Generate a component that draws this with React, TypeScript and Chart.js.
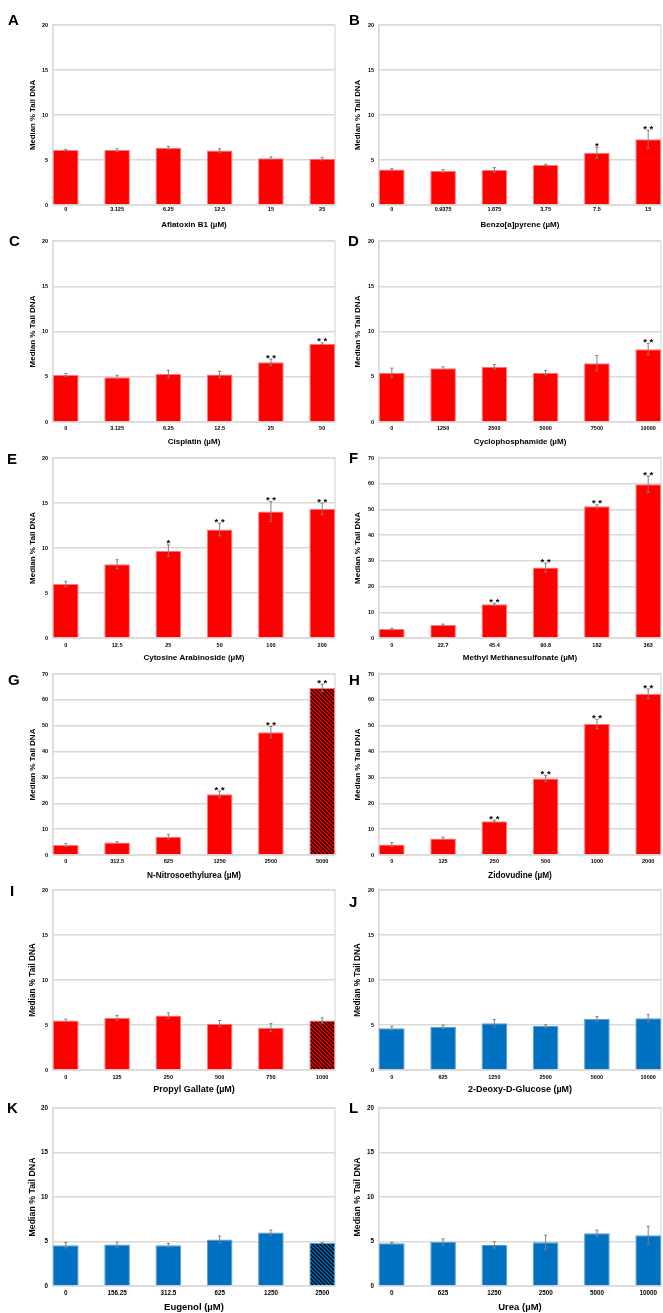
import React, { useEffect, useRef } from "react";
import { Chart, registerables } from "chart.js";
Chart.register(...registerables);

// ---------- DATA ----------
const aflatoxinDoses = ["0", "3.125", "6.25", "12.5", "15", "25"];
const aflatoxinMedians = [6.1, 6.1, 6.35, 6.05, 5.2, 5.15];
const aflatoxinErrors = [0.08, 0.15, 0.15, 0.2, 0.15, 0.15];
const aflatoxinStars = ["", "", "", "", "", ""];

const benzoDoses = ["0", "0.9375", "1.875", "3.75", "7.5", "15"];
const benzoMedians = [3.95, 3.8, 3.9, 4.45, 5.8, 7.3];
const benzoErrors = [0.08, 0.15, 0.25, 0.08, 0.6, 1.0];
const benzoStars = ["", "", "", "", "*", "**"];

const cisplatinDoses = ["0", "3.125", "6.25", "12.5", "25", "50"];
const cisplatinMedians = [5.2, 4.95, 5.3, 5.25, 6.6, 8.65];
const cisplatinErrors = [0.15, 0.2, 0.4, 0.35, 0.35, 0.1];
const cisplatinStars = ["", "", "", "", "**", "**"];

const cyclophosDoses = ["0", "1250", "2500", "5000", "7500", "10000"];
const cyclophosMedians = [5.45, 5.95, 6.1, 5.45, 6.5, 8.05];
const cyclophosErrors = [0.5, 0.15, 0.25, 0.25, 0.85, 0.65];
const cyclophosStars = ["", "", "", "", "", "**"];

const cytosineDoses = ["0", "12.5", "25", "50", "100", "200"];
const cytosineMedians = [6.0, 8.2, 9.7, 12.05, 14.05, 14.35];
const cytosineErrors = [0.3, 0.5, 0.65, 0.7, 1.1, 0.65];
const cytosineStars = ["", "", "*", "**", "**", "**"];

const mmsDoses = ["0", "22.7", "45.4", "90.8", "182", "363"];
const mmsMedians = [3.5, 5.1, 13.1, 27.4, 51.2, 59.8];
const mmsErrors = [0.3, 0.3, 0.4, 1.7, 0.6, 3.2];
const mmsStars = ["", "", "**", "**", "**", "**"];

const nitrosoDoses = ["0", "312.5", "625", "1250", "2500", "5000"];
const nitrosoMedians = [3.9, 4.8, 7.1, 23.5, 47.5, 64.6];
const nitrosoErrors = [0.6, 0.4, 0.9, 1.2, 2.2, 1.5];
const nitrosoStars = ["", "", "", "**", "**", "**"];

const zidovudineDoses = ["0", "125", "250", "500", "1000", "2000"];
const zidovudineMedians = [4.1, 6.4, 13.1, 29.6, 50.7, 62.4];
const zidovudineErrors = [0.7, 0.5, 0.4, 1.2, 1.8, 1.8];
const zidovudineStars = ["", "", "**", "**", "**", "**"];

const propylDoses = ["0", "125", "250", "500", "750", "1000"];
const propylMedians = [5.5, 5.8, 6.05, 5.15, 4.7, 5.5];
const propylErrors = [0.15, 0.25, 0.3, 0.35, 0.45, 0.3];
const propylStars = ["", "", "", "", "", ""];

const deoxyDoses = ["0", "625", "1250", "2500", "5000", "10000"];
const deoxyMedians = [4.65, 4.8, 5.2, 4.88, 5.7, 5.75];
const deoxyErrors = [0.2, 0.2, 0.4, 0.15, 0.25, 0.4];
const deoxyStars = ["", "", "", "", "", ""];

const eugenolDoses = ["0", "156.25", "312.5", "625", "1250", "2500"];
const eugenolMedians = [4.58, 4.65, 4.58, 5.22, 6.0, 4.84];
const eugenolErrors = [0.3, 0.3, 0.2, 0.4, 0.3, 0.05];
const eugenolStars = ["", "", "", "", "", ""];

const ureaDoses = ["0", "625", "1250", "2500", "5000", "10000"];
const ureaMedians = [4.8, 4.95, 4.62, 4.92, 5.93, 5.7];
const ureaErrors = [0.1, 0.35, 0.35, 0.8, 0.35, 1.0];
const ureaStars = ["", "", "", "", "", ""];

const yAxisTitle = "Median % Tail DNA";

type Panel = {
  letter: string; title: string; doses: string[]; medians: number[]; errors: number[]; stars: string[];
  yMax: number; step: number; blue: boolean; hatchLast: boolean; row: number; col: number;
};

const panels: Panel[] = [
  { letter: "A", title: "Aflatoxin B1 (µM)", doses: aflatoxinDoses, medians: aflatoxinMedians, errors: aflatoxinErrors, stars: aflatoxinStars, yMax: 20, step: 5, blue: false, hatchLast: false, row: 0, col: 0 },
  { letter: "B", title: "Benzo[a]pyrene (µM)", doses: benzoDoses, medians: benzoMedians, errors: benzoErrors, stars: benzoStars, yMax: 20, step: 5, blue: false, hatchLast: false, row: 0, col: 1 },
  { letter: "C", title: "Cisplatin (µM)", doses: cisplatinDoses, medians: cisplatinMedians, errors: cisplatinErrors, stars: cisplatinStars, yMax: 20, step: 5, blue: false, hatchLast: false, row: 1, col: 0 },
  { letter: "D", title: "Cyclophosphamide (µM)", doses: cyclophosDoses, medians: cyclophosMedians, errors: cyclophosErrors, stars: cyclophosStars, yMax: 20, step: 5, blue: false, hatchLast: false, row: 1, col: 1 },
  { letter: "E", title: "Cytosine Arabinoside (µM)", doses: cytosineDoses, medians: cytosineMedians, errors: cytosineErrors, stars: cytosineStars, yMax: 20, step: 5, blue: false, hatchLast: false, row: 2, col: 0 },
  { letter: "F", title: "Methyl Methanesulfonate (µM)", doses: mmsDoses, medians: mmsMedians, errors: mmsErrors, stars: mmsStars, yMax: 70, step: 10, blue: false, hatchLast: false, row: 2, col: 1 },
  { letter: "G", title: "N-Nitrosoethylurea (µM)", doses: nitrosoDoses, medians: nitrosoMedians, errors: nitrosoErrors, stars: nitrosoStars, yMax: 70, step: 10, blue: false, hatchLast: true, row: 3, col: 0 },
  { letter: "H", title: "Zidovudine (µM)", doses: zidovudineDoses, medians: zidovudineMedians, errors: zidovudineErrors, stars: zidovudineStars, yMax: 70, step: 10, blue: false, hatchLast: false, row: 3, col: 1 },
  { letter: "I", title: "Propyl Gallate (µM)", doses: propylDoses, medians: propylMedians, errors: propylErrors, stars: propylStars, yMax: 20, step: 5, blue: false, hatchLast: true, row: 4, col: 0 },
  { letter: "J", title: "2-Deoxy-D-Glucose (µM)", doses: deoxyDoses, medians: deoxyMedians, errors: deoxyErrors, stars: deoxyStars, yMax: 20, step: 5, blue: true, hatchLast: false, row: 4, col: 1 },
  { letter: "K", title: "Eugenol (µM)", doses: eugenolDoses, medians: eugenolMedians, errors: eugenolErrors, stars: eugenolStars, yMax: 20, step: 5, blue: true, hatchLast: true, row: 5, col: 0 },
  { letter: "L", title: "Urea (µM)", doses: ureaDoses, medians: ureaMedians, errors: ureaErrors, stars: ureaStars, yMax: 20, step: 5, blue: true, hatchLast: false, row: 5, col: 1 },
];

// ---------- LAYOUT ----------
const ROWS = [
  { plotTop: 25, plotBottom: 205, tickY: 209.5, titleY: 225, titleSize: 8, tickSize: 5.5, yTitleSize: 7.8 },
  { plotTop: 241, plotBottom: 422, tickY: 428, titleY: 442, titleSize: 8, tickSize: 5.5, yTitleSize: 8 },
  { plotTop: 458, plotBottom: 638, tickY: 645, titleY: 658, titleSize: 8, tickSize: 5.5, yTitleSize: 8 },
  { plotTop: 674, plotBottom: 855, tickY: 861, titleY: 876, titleSize: 8.3, tickSize: 5.5, yTitleSize: 8 },
  { plotTop: 890, plotBottom: 1070, tickY: 1077, titleY: 1090, titleSize: 9, tickSize: 5.5, yTitleSize: 8.2 },
  { plotTop: 1108, plotBottom: 1286, tickY: 1293, titleY: 1307, titleSize: 9.5, tickSize: 6.3, yTitleSize: 8.8 },
];
const COLS = [
  { left: 0, width: 336, plotLeft: 53, plotRight: 335, yTitleX: 33 },
  { left: 336, width: 327, plotLeft: 379, plotRight: 661, yTitleX: 358 },
];
const LETTERS: Record<string, [number, number]> = {
  A: [8, 14], B: [349, 14], C: [9, 235], D: [348, 235], E: [7, 453], F: [349, 452],
  G: [8, 674], H: [349, 674], I: [10, 885], J: [349, 896], K: [7, 1102], L: [349, 1102],
};

const FONT = "'Liberation Sans', Arial, sans-serif";
const GRID = "#d9d9d9";
const RED = "#ff0000";
const RED_EDGE = "#ff7a7a";
const BLUE = "#0070c0";
const BLUE_EDGE = "#5b9bd5";

function makeHatch(base: string): CanvasPattern | string {
  const c = document.createElement("canvas");
  c.width = 4; c.height = 4;
  const g = c.getContext("2d");
  if (!g) return base;
  g.fillStyle = base;
  g.fillRect(0, 0, 4, 4);
  g.strokeStyle = "#000";
  g.lineWidth = 1.3;
  g.beginPath();
  g.moveTo(-1, -1); g.lineTo(5, 5);
  g.moveTo(-1, 3); g.lineTo(1, 5);
  g.moveTo(3, -1); g.lineTo(5, 1);
  g.stroke();
  const p = g.createPattern(c, "repeat");
  return p || base;
}

function PanelChart({ p }: { p: Panel }) {
  const ref = useRef<HTMLCanvasElement | null>(null);
  const row = ROWS[p.row];
  const col = COLS[p.col];
  const top = row.plotTop - 20;
  const height = row.titleY + 6 - top;
  const plotH = row.plotBottom - row.plotTop;

  useEffect(() => {
    if (!ref.current) return;
    const base = p.blue ? BLUE : RED;
    const edge = p.blue ? BLUE_EDGE : RED_EDGE;
    const n = p.doses.length;
    const colors = p.medians.map((_, i) => (p.hatchLast && i === n - 1 ? makeHatch(base) : base));

    const overlay = {
      id: "overlay" + p.letter,
      beforeDatasetsDraw(chart: any) {
        const { ctx, chartArea } = chart;
        ctx.save();
        ctx.strokeStyle = GRID;
        ctx.lineWidth = 1.2;
        ctx.strokeRect(chartArea.left, chartArea.top, chartArea.right - chartArea.left, chartArea.bottom - chartArea.top);
        ctx.restore();
      },
      afterDatasetsDraw(chart: any) {
        const { ctx } = chart;
        const ys = chart.scales.y;
        const meta = chart.getDatasetMeta(0);
        ctx.save();
        meta.data.forEach((bar: any, i: number) => {
          const v = p.medians[i];
          const e = p.errors[i];
          const yt = ys.getPixelForValue(v + e);
          const yb = ys.getPixelForValue(v - e);
          ctx.strokeStyle = "#7f7f7f";
          ctx.lineWidth = 1;
          ctx.beginPath();
          ctx.moveTo(bar.x, yt); ctx.lineTo(bar.x, yb);
          ctx.moveTo(bar.x - 1.5, yt); ctx.lineTo(bar.x + 1.5, yt);
          ctx.moveTo(bar.x - 1.5, yb); ctx.lineTo(bar.x + 1.5, yb);
          ctx.stroke();
          const s = p.stars[i];
          if (s) {
            const fs = 9.5;
            ctx.fillStyle = "#000";
            ctx.font = `bold ${fs}px ${FONT}`;
            ctx.textAlign = "center";
            ctx.textBaseline = "alphabetic";
            const txt = s.split("").join(" ");
            ctx.fillText(txt, bar.x, yt - 2.5 + 0.43 * fs);
          }
        });
        ctx.restore();
      },
    };

    const chart = new Chart(ref.current, {
      type: "bar",
      data: {
        datasets: [
          {
            data: p.medians.map((v, i) => ({ x: i, y: v })),
            backgroundColor: colors as any,
            borderColor: edge,
            borderWidth: 1,
            barPercentage: 0.5,
            categoryPercentage: 1,
          },
        ],
      },
      options: {
        animation: false,
        responsive: false,
        devicePixelRatio: 1,
        layout: { padding: { top: 20, left: 0, bottom: 0, right: col.left + col.width - col.plotRight } },
        plugins: { legend: { display: false }, tooltip: { enabled: false } },
        scales: {
          x: {
            type: "linear",
            min: -0.25,
            max: n - 0.75,
            offset: false,
            grid: { display: false, drawTicks: false },
            border: { display: true, color: GRID, width: 1.2 },
            ticks: {
              stepSize: 1,
              includeBounds: false,
              autoSkip: false,
              maxRotation: 0,
              padding: row.tickY - row.plotBottom - row.tickSize * 0.6,
              color: "#000",
              font: { family: FONT, size: row.tickSize, weight: "bold" },
              callback: (v: any) => (Number.isInteger(v) ? p.doses[v] : ""),
            },
            title: {
              display: true,
              text: p.title,
              color: "#000",
              font: { family: FONT, size: row.titleSize, weight: "bold" },
              padding: { top: 0, bottom: 6 - row.titleSize * 0.6 },
            },
            afterFit: (s: any) => {
              s.height = height - 20 - plotH;
            },
          } as any,
          y: {
            min: 0,
            max: p.yMax,
            grid: { color: GRID, lineWidth: 1.5, drawTicks: false },
            border: { display: true, color: GRID, width: 1.2 },
            ticks: {
              stepSize: p.step,
              padding: 5,
              color: "#000",
              font: { family: FONT, size: row.tickSize, weight: "bold" },
            },
            title: {
              display: true,
              text: yAxisTitle,
              color: "#000",
              font: { family: FONT, size: row.yTitleSize, weight: "bold" },
              padding: { top: col.yTitleX - col.left - row.yTitleSize * 0.6, bottom: 0 },
            },
            afterFit: (s: any) => {
              s.width = col.plotLeft - col.left;
            },
          } as any,
        },
      } as any,
      plugins: [overlay],
    });
    return () => chart.destroy();
  }, []);

  return (
    <canvas
      ref={ref}
      width={col.width}
      height={height}
      style={{ position: "absolute", left: col.left, top, width: col.width, height }}
    />
  );
}

export default function App() {
  useEffect(() => {
    document.body.style.margin = "0";
  }, []);
  return (
    <div style={{ position: "relative", width: 663, height: 1313, background: "#fff", overflow: "hidden" }}>
      {panels.map((p) => (
        <PanelChart key={p.letter} p={p} />
      ))}
      {panels.map((p) => {
        const [lx, ly] = LETTERS[p.letter];
        return (
          <div
            key={"l" + p.letter}
            style={{
              position: "absolute",
              left: lx,
              top: ly - 2,
              fontFamily: FONT,
              fontWeight: "bold",
              fontSize: 15,
              lineHeight: "15px",
              color: "#000",
            }}
          >
            {p.letter}
          </div>
        );
      })}
    </div>
  );
}
